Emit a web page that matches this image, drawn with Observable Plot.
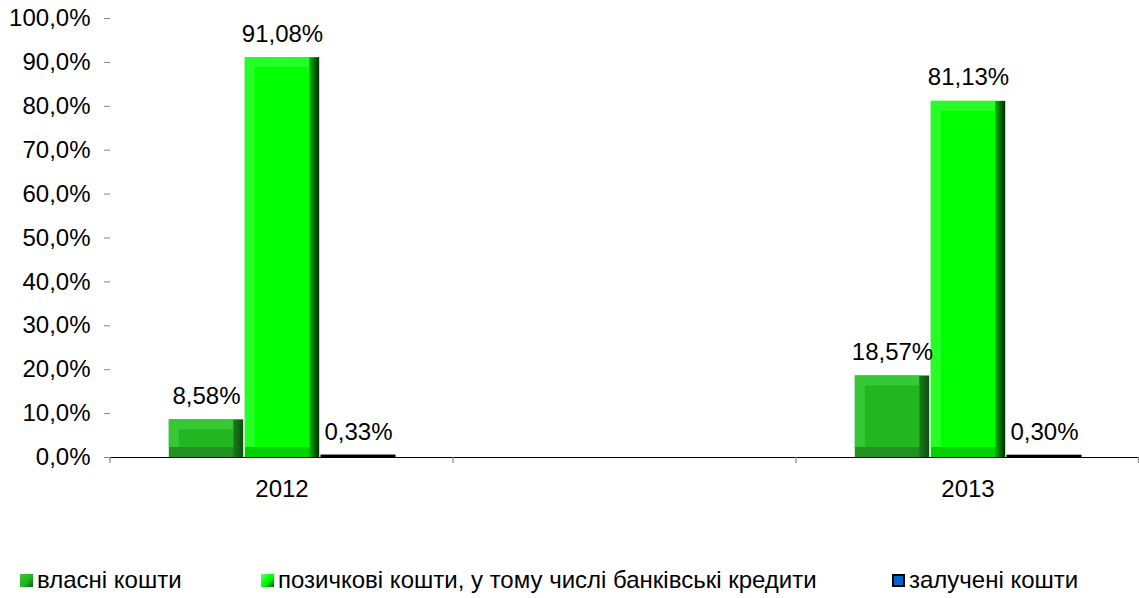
<!DOCTYPE html>
<html><head><meta charset="utf-8">
<script src="https://cdn.jsdelivr.net/npm/d3@7"></script>
<script src="https://cdn.jsdelivr.net/npm/@observablehq/plot@0.6"></script>
<style>
html,body{margin:0;padding:0;background:#fff;width:1139px;height:598px;overflow:hidden;font-family:Arial,"Liberation Sans",sans-serif;}
#chart{position:absolute;left:0;top:0;}
.legend{position:absolute;top:566px;left:0;width:1139px;height:28px;font-size:24px;color:#000;}
.item{position:absolute;top:0;display:flex;align-items:center;white-space:nowrap;height:28px;}
.sw{width:13px;height:13px;margin-right:4px;box-sizing:border-box;}
</style></head><body>
<div id="chart"></div>
<div class="legend" id="legend"></div>
<script>
// ---- data ----
const years = ["2012", "2013"];
const gapSlot = " ";
const seriesNames = ["власні кошти", "позичкові кошти, у тому числі банківські кредити", "залучені кошти"];
const ownFunds = [8.58, 18.57];
const loanFunds = [91.08, 81.13];
const attractedFunds = [0.33, 0.30];
const yTicks = [0, 10, 20, 30, 40, 50, 60, 70, 80, 90, 100];

// ---- table ----
const rows = [];
years.forEach((yr, i) => {
  rows.push({year: yr, series: seriesNames[0], value: ownFunds[i]});
  rows.push({year: yr, series: seriesNames[1], value: loanFunds[i]});
  rows.push({year: yr, series: seriesNames[2], value: attractedFunds[i]});
});
seriesNames.forEach(s => rows.push({year: gapSlot, series: s, value: null}));
const fxDomain = [years[0], gapSlot, years[1]];

const edgeFill = {[seriesNames[0]]: "url(#ownEdge)", [seriesNames[1]]: "url(#loanEdge)"};
const lightFill = {[seriesNames[0]]: "#36c836", [seriesNames[1]]: "#26ff26"};
const faceFill = {[seriesNames[0]]: "#23b623", [seriesNames[1]]: "#00ff00"};
const bevel = 10;
const isGreen = d => d.series !== seriesNames[2];
const fmtPct = v => v == null ? "" : v.toFixed(2).replace(".", ",") + "%";
const fmtTick = v => v.toFixed(1).replace(".", ",") + "%";

const chart = Plot.plot({
  width: 1139, height: 520,
  marginTop: 18, marginBottom: 63, marginLeft: 110, marginRight: 0,
  style: {fontFamily: "Arial, 'Liberation Sans', sans-serif", fontSize: "24px", color: "#000", background: "#fff"},
  fx: {domain: fxDomain, padding: 0, label: null},
  x: {domain: seriesNames, paddingInner: 0, paddingOuter: 0.73, axis: null},
  y: {domain: [0, 100], label: null},
  color: {type: "identity"},
  marks: [
    Plot.axisY({ticks: yTicks, tickFormat: fmtTick, tickSize: 6, tickPadding: 14, fontSize: 24, stroke: "#868686", fill: "#000", line: true, label: null}),
    Plot.axisFx({anchor: "bottom", tickSize: 0, tickPadding: 22, fontSize: 24, fill: "#000", label: null}),
    Plot.barY(rows, {filter: isGreen, fx: "year", x: "series", y: "value", fill: d => edgeFill[d.series], insetLeft: 0.8, insetRight: 0.8}),
    Plot.barY(rows, {filter: d => isGreen(d) && d.value > 3, fx: "year", x: "series", y: "value", fill: d => lightFill[d.series], insetLeft: 0.8, insetRight: 0.8 + bevel, insetBottom: bevel}),
    Plot.barY(rows, {filter: d => isGreen(d) && d.value > 3, fx: "year", x: "series", y: "value", fill: d => faceFill[d.series], insetLeft: 0.8 + bevel, insetRight: 0.8 + bevel, insetTop: bevel, insetBottom: bevel}),
    Plot.ruleY([0], {stroke: "#000", strokeWidth: 1.2}),
    Plot.barY(rows, {filter: d => !isGreen(d), fx: "year", x: "series", y: "value", fill: "#0066cc", stroke: "#000", strokeWidth: 2, insetLeft: 1.5, insetRight: 1.5}),
    Plot.text(rows, {filter: d => d.value != null, fx: "year", x: "series", y: "value", text: d => fmtPct(d.value), lineAnchor: "bottom", dy: -16, fontSize: 24, fill: "#000"})
  ]
});

// gradients for bevel edges (bottom and right edges of each bar)
const svg = d3.select(chart);
const defs = svg.insert("defs", ":first-child");
function grad(id, stops) {
  const g = defs.append("linearGradient").attr("id", id).attr("x1", 0).attr("x2", 1).attr("y1", 0).attr("y2", 0);
  stops.forEach(([o, c]) => g.append("stop").attr("offset", o).attr("stop-color", c));
}
grad("ownEdge", [[0, "#1f931f"], [0.86, "#1f931f"], [0.87, "#1a7c1a"], [1, "#0e4c0e"]]);
grad("loanEdge", [[0, "#00d200"], [0.86, "#00d200"], [0.87, "#00b400"], [1, "#002800"]]);

// category boundary ticks on the x axis (from the fx scale)
try {
  const fxS = chart.scale("fx");
  const yS = chart.scale("y");
  const band = d3.scaleBand().domain(fxS.domain).range(fxS.range).paddingInner(fxS.paddingInner || 0).paddingOuter(fxS.paddingOuter || 0);
  const y0 = yS.apply(0);
  const bx = fxS.domain.map(d => band(d)).concat([fxS.range[1] - 0.5]);
  svg.append("g").selectAll("line").data(bx).join("line")
    .attr("x1", d => d).attr("x2", d => d).attr("y1", y0).attr("y2", y0 + 6)
    .attr("stroke", "#868686").attr("stroke-width", 1.2);
} catch (e) { console.error(e); }

document.getElementById("chart").appendChild(chart);

// legend
const legendLeft = [20, 261, 892];
const swatchStyle = [
  "background:linear-gradient(135deg,#3dca3d 0%,#22b622 45%,#22b622 55%,#0f5f0f 100%);",
  "background:linear-gradient(135deg,#6dff6d 0%,#00ff00 45%,#00ff00 55%,#006000 100%);",
  "background:#0066cc;border:2px solid #000;"
];
const legend = d3.select("#legend");
seriesNames.forEach((s, i) => {
  const it = legend.append("div").attr("class", "item").style("left", legendLeft[i] + "px");
  it.append("div").attr("class", "sw").attr("style", swatchStyle[i]);
  it.append("span").text(s);
});
</script>
</body></html>
